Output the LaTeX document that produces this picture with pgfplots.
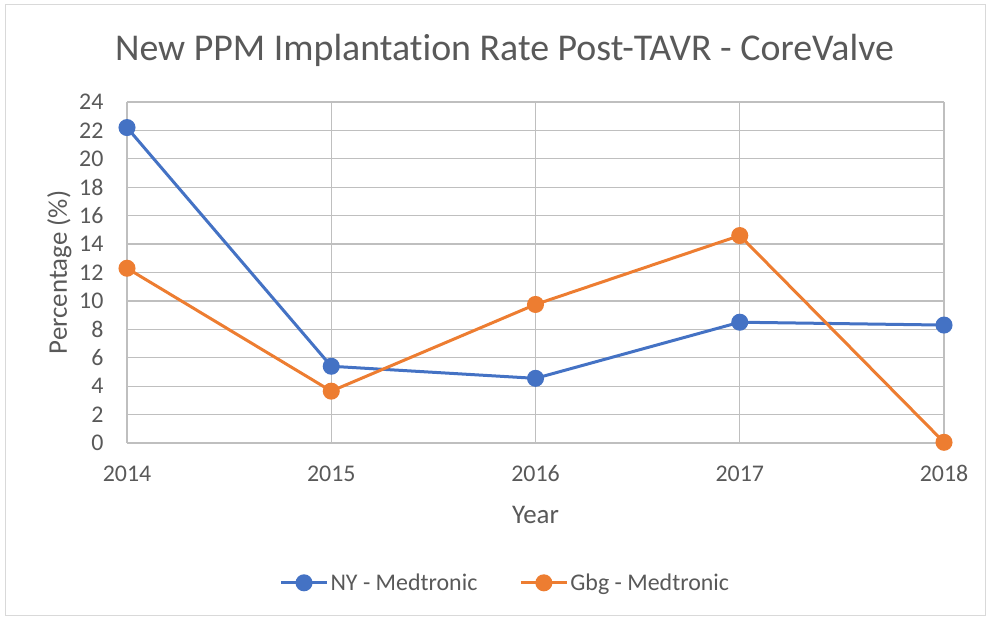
\documentclass[border=0pt]{standalone}
\usepackage{pgfplots}
\pgfplotsset{compat=1.18}
\usepackage{fontspec}
\setmainfont{Carlito}[RawFeature=-liga]
\definecolor{nyblue}{HTML}{4472C4}
\definecolor{gbgorange}{HTML}{ED7D31}
\definecolor{txt}{HTML}{595959}
\definecolor{grid}{HTML}{D9D9D9}
\begin{document}
\begin{tikzpicture}[x=1bp,y=1bp]
\path[use as bounding box] (0,0) rectangle (989,619);
\draw[grid, line width=0.8bp] (5,4) rectangle (985,615);
\begin{axis}[
  at={(127bp,176bp)}, anchor=south west,
  scale only axis, width=817bp, height=341bp,
  xmin=0, xmax=4, ymin=0, ymax=24,
  xtick={0,1,2,3,4}, xticklabels={2014,2015,2016,2017,2018},
  ytick={0,2,...,24},
  xmajorgrids, ymajorgrids,
  grid style={grid, line width=1.2bp},
  axis line style={draw=none},
  tick style={draw=none},
  every tick label/.style={font=\fontsize{24}{26}\selectfont, text=txt},
  yticklabel style={xshift=-20bp},
  xticklabel style={yshift=-19bp},
  /pgf/number format/assume math mode=true,
  title={New PPM Implantation Rate Post-TAVR - CoreValve},
  title style={font=\fontsize{38}{42}\selectfont, text=txt, at={(0.462,1)}, yshift=26bp},
  xlabel={Year}, ylabel={Percentage (\%)},
  label style={font=\fontsize{27}{29}\selectfont, text=txt},
  xlabel style={yshift=-17bp},
  ylabel style={yshift=1bp},
  legend columns=2,
  legend style={draw=none, at={(0.463,-0.41)}, anchor=center,
    font=\fontsize{24}{26}\selectfont, text=txt,
    /tikz/every even column/.append style={column sep=40bp}},
  legend image code/.code={
    \draw[#1, line width=3bp] (0bp,0bp) -- (46bp,0bp);
    \fill[#1] (23bp,0bp) circle (7bp);
  },
  clip=false,
]
\addplot[nyblue, line width=3bp, mark=*, mark size=7bp, mark options={solid, fill=nyblue}]
  coordinates {(0,22.2) (1,5.4) (2,4.55) (3,8.5) (4,8.3)};
\addlegendentry{NY - Medtronic}
\addplot[gbgorange, line width=3bp, mark=*, mark size=7bp, mark options={solid, fill=gbgorange}]
  coordinates {(0,12.3) (1,3.65) (2,9.75) (3,14.6) (4,0.05)};
\addlegendentry{Gbg - Medtronic}
\end{axis}
\end{tikzpicture}
\end{document}
